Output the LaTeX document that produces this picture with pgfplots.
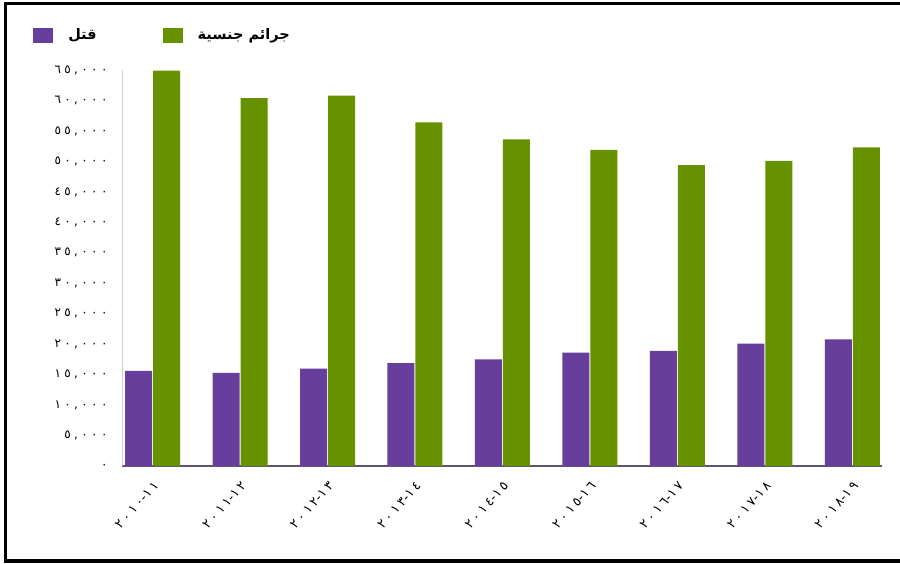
\documentclass[border=0pt]{standalone}
\usepackage{pgfplots}
\pgfplotsset{compat=1.18}
\usepackage{fontspec}
\setmainfont{DejaVu Sans}
\newfontfamily\arabicfont[Script=Arabic]{DejaVu Sans}
\newfontfamily\digitfont[LetterSpace=28]{DejaVu Sans}
\newfontfamily\xdigitfont[LetterSpace=22]{DejaVu Sans}
\TeXXeTstate=1
\definecolor{cpurple}{RGB}{103,62,155}
\definecolor{cgreen}{RGB}{102,146,0}
\definecolor{caxis}{RGB}{95,85,115}
\newcommand{\yr}[2]{\hbox{#1}\hbox{-}\hbox{#2}}
\begin{document}
\begin{tikzpicture}
\useasboundingbox (0pt,0pt) rectangle (900pt,563pt);
\fill[white] (0pt,0pt) rectangle (900pt,563pt);
\fill[black] (3.75pt,557.75pt) rectangle (900pt,561.25pt);
\fill[black] (3.75pt,0.25pt) rectangle (900pt,3.75pt);
\fill[black] (3.75pt,0.25pt) rectangle (7.25pt,561.25pt);
\begin{axis}[
  at={(122pt,97pt)}, anchor=south west,
  width=760pt, height=396pt, scale only axis,
  xmin=-0.35, xmax=8.34, ymin=0, ymax=65000,
  scaled y ticks=false,
  axis x line=bottom, axis y line=left,
  x axis line style={-, draw=caxis, line width=1.5pt},
  y axis line style={-, draw=black!18, line width=0.8pt},
  major tick length=0pt,
  clip=false,
  ytick={0,5000,10000,15000,20000,25000,30000,35000,40000,45000,50000,55000,60000,65000},
  yticklabels={٠,{٥,٠٠٠},{١٠,٠٠٠},{١٥,٠٠٠},{٢٠,٠٠٠},{٢٥,٠٠٠},{٣٠,٠٠٠},{٣٥,٠٠٠},{٤٠,٠٠٠},{٤٥,٠٠٠},{٥٠,٠٠٠},{٥٥,٠٠٠},{٦٠,٠٠٠},{٦٥,٠٠٠}},
  yticklabel style={font=\digitfont\fontsize{12}{12}\selectfont, anchor=east, xshift=-11pt},
  xtick={0,1,2,3,4,5,6,7,8},
  xticklabels={\yr{٢٠١٠}{١١},\yr{٢٠١١}{١٢},\yr{٢٠١٢}{١٣},\yr{٢٠١٣}{١٤},\yr{٢٠١٤}{١٥},\yr{٢٠١٥}{١٦},\yr{٢٠١٦}{١٧},\yr{٢٠١٧}{١٨},\yr{٢٠١٨}{١٩}},
  xticklabel style={font=\xdigitfont\fontsize{13}{13}\selectfont, xshift=6pt, yshift=-15pt, rotate=48, anchor=east},
  legend style={at={(-0.117,1.088)}, anchor=west, draw=none, fill=none, inner sep=0pt,
    font=\arabicfont\bfseries\fontsize{14.5}{14.5}\selectfont,
    /tikz/every even column/.append style={column sep=64pt},
    /tikz/every odd column/.append style={column sep=13pt}},
  legend columns=2,
]
\addplot[ybar, bar width=27pt, bar shift=-14pt, fill=cpurple, draw=none,
  legend image code/.code={\fill[cpurple] (0pt,-7.5pt) rectangle (20pt,7.5pt);}]
  coordinates {(0,15600) (1,15300) (2,16000) (3,16900) (4,17500) (5,18600) (6,18900) (7,20100) (8,20800)};
\addlegendentry{\beginR قتل\endR}
\addplot[ybar, bar width=27pt, bar shift=14pt, fill=cgreen, draw=none,
  legend image code/.code={\fill[cgreen] (0pt,-7.5pt) rectangle (20pt,7.5pt);}]
  coordinates {(0,64900) (1,60400) (2,60800) (3,56400) (4,53600) (5,51900) (6,49400) (7,50100) (8,52300)};
\addlegendentry{\beginR جرائم جنسية\endR}
\end{axis}
\end{tikzpicture}
\end{document}
